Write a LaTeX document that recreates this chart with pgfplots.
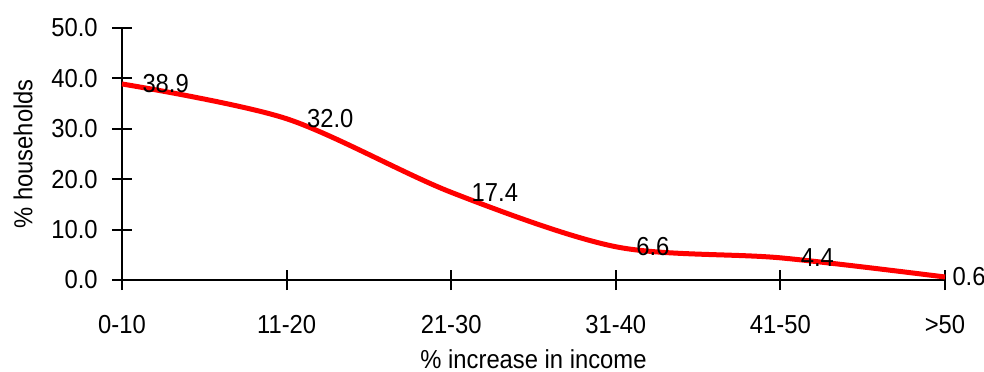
\documentclass[border=0pt]{standalone}
\usepackage{pgfplots}
\pgfplotsset{compat=1.18}
\usepackage{pgfplotstable}
\usepackage{fontspec}
\setmainfont{Liberation Sans}[FakeStretch=0.915]

% share of households by income increase band; dx = label offset
\pgfplotstableread{
x y dx
0 38.9 9
1 32.0 9
2 17.4 9
3 6.6 9
4 4.4 9
5 0.6 2.5
}\households

\begin{document}
\begin{tikzpicture}[font=\fontsize{13}{15}\selectfont]
\begin{axis}[
  at={(0,0)}, anchor=south west,
  scale only axis,
  width=411.5pt, height=126pt,
  xmin=0, xmax=5, ymin=0, ymax=50,
  enlargelimits=false,
  clip=false,
  axis x line=bottom, axis y line=left,
  axis line style={-, line width=1pt, black},
  every tick/.style={black, line width=1pt},
  tick align=center,
  major tick length=10pt,
  xtick={0,1,2,3,4,5},
  xticklabels={0-10,11-20,21-30,31-40,41-50,>50},
  ytick={0,10,20,30,40,50},
  /pgf/number format/assume math mode=true,
  yticklabel style={/pgf/number format/fixed, /pgf/number format/fixed zerofill, /pgf/number format/precision=1,
    anchor=east, inner sep=0pt, xshift=-7pt},
  xticklabel style={anchor=base, inner sep=0pt, yshift=-21.5pt},
  xlabel={\% increase in income},
  ylabel={\% households},
  xlabel style={at={(axis description cs:0.5,-0.3492)}, anchor=base},
  ylabel style={at={(axis description cs:-0.1203,0.5)}, anchor=center},
]
\addplot[
  red, line width=2.5pt, smooth,
  visualization depends on={\thisrow{dx} \as \dx},
  nodes near coords,
  point meta=explicit,
  nodes near coords style={
    anchor=west, inner sep=0pt, xshift=\dx pt, black,
    /pgf/number format/fixed, /pgf/number format/fixed zerofill, /pgf/number format/precision=1,
  },
] table[x=x, y=y, meta=y] {\households};
\end{axis}
\pgfresetboundingbox
\useasboundingbox (-61pt,-45.5pt) rectangle (431pt,140pt);
\end{tikzpicture}
\end{document}
